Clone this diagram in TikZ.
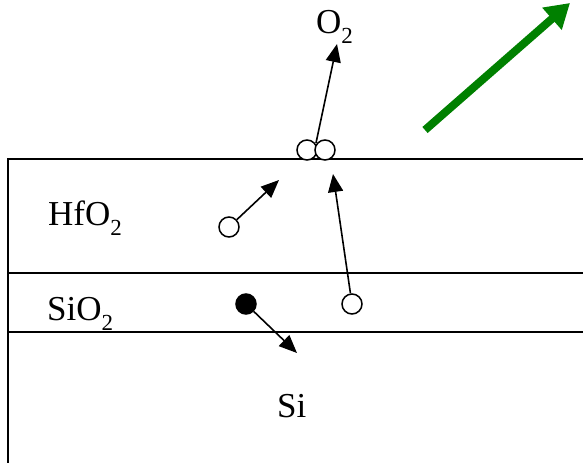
\documentclass[tikz,border=0pt]{standalone}
\usepackage{fontspec}
\setmainfont{Liberation Serif}
\usetikzlibrary{arrows.meta, positioning}
\definecolor{colFlow}{RGB}{0,128,0}
\newcommand{\lowsub}[1]{\raisebox{-10pt}{\fontsize{23}{23}\selectfont #1}}
\tikzset{
  % layer boundaries
  layerLine/.style={line width=2pt, draw=black},
  % layer / species labels
  layerLabel/.style={anchor=base west, inner sep=0pt,
                     font=\fontsize{35}{40}\selectfont},
  % oxygen atoms
  atomOpen/.style={circle, draw=black, line width=1.5pt, fill=white,
                   minimum size=20pt, inner sep=0pt},
  atomFull/.style={atomOpen, fill=black},
  % arrows
  moveArr/.style={-{Triangle[length=18pt,width=15pt]}, line width=1.6pt},
  flowArr/.style={-{Triangle[length=24pt,width=28pt]}, line width=8pt,
                  draw=colFlow},
}
\begin{document}
\begin{tikzpicture}[x=1pt, y=-1pt]
\useasboundingbox (0,0) rectangle (583,463);

% ═══════════════════════════════════════════════════════════════════════
%  LAYER STACK
% ═══════════════════════════════════════════════════════════════════════
\draw[layerLine] (583,159) -- (8,159) -- (8,463);
\draw[layerLine] (8,273) -- (583,273);
\draw[layerLine] (8,332) -- (583,332);

\node[layerLabel] (hfo) at (48,225) {HfO\lowsub{2}};
\node[layerLabel] (sio) at (47,320) {SiO\lowsub{2}};
\node[layerLabel] (si)  at (277,417) {Si};
\node[layerLabel] (oxy) at (316,33) {O\lowsub{2}};

% ═══════════════════════════════════════════════════════════════════════
%  OXYGEN ATOMS
% ═══════════════════════════════════════════════════════════════════════
\node[atomOpen] (surfL) at (307,150) {};
\node[atomOpen] (surfR) at (325,150) {};
\node[atomOpen] (hfAtom) at (229,227) {};
\node[atomOpen] (siAtom) at (352,304) {};
\node[atomFull] (inAtom) at (246,304) {};

% arrow end points
\coordinate (desorb) at (337,44);
\coordinate (hfEnd)  at (279,180);
\coordinate (siEnd)  at (333,174);
\coordinate (inEnd)  at (297,353);

% ═══════════════════════════════════════════════════════════════════════
%  MOTIONS
% ═══════════════════════════════════════════════════════════════════════
\draw[moveArr] (316,143) -- (desorb);
\draw[moveArr] (hfAtom) -- (hfEnd);
\draw[moveArr] (siAtom) -- (siEnd);
\draw[moveArr] (inAtom) -- (inEnd);

% ── green flow arrow ──────────────────────────────────────────────────
\coordinate (flowS) at (425,130);
\coordinate (flowE) at (570,3);
\draw[flowArr] (flowS) -- (flowE);

\end{tikzpicture}
\end{document}
